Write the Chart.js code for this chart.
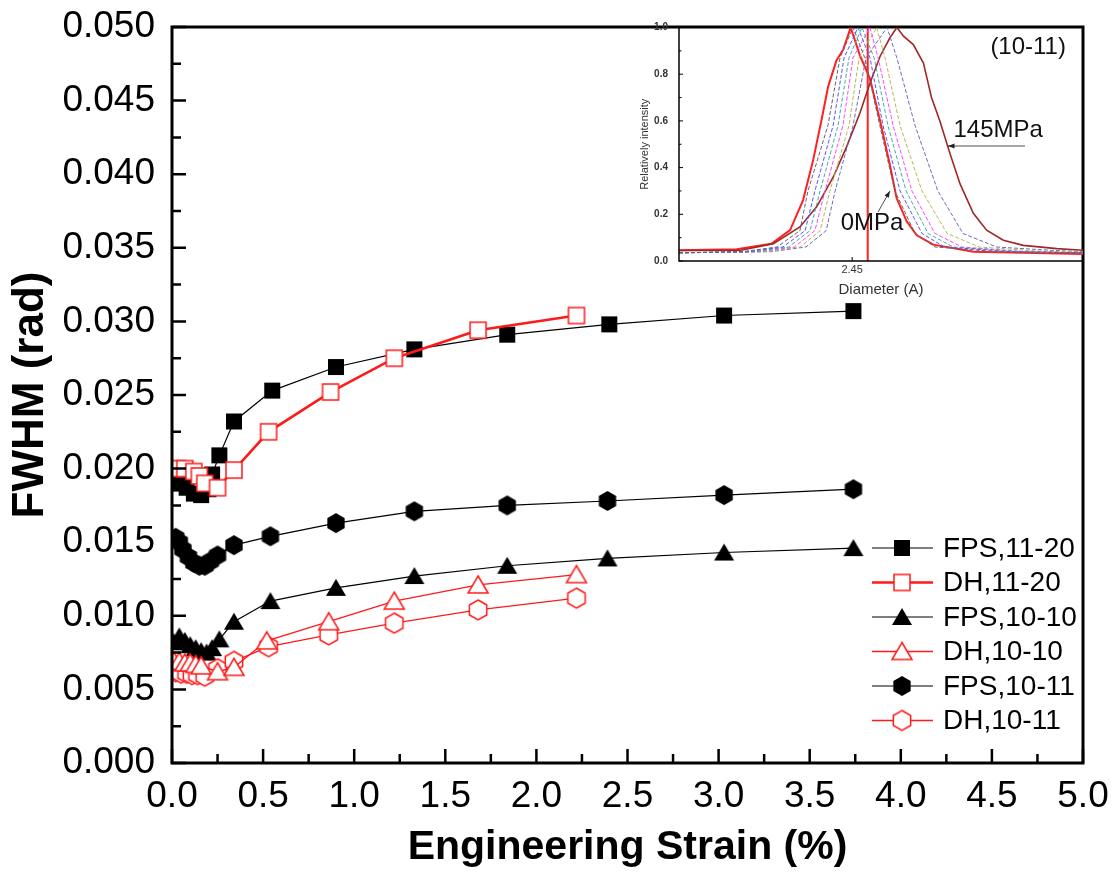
<!DOCTYPE html>
<html>
<head>
<meta charset="utf-8">
<script src="https://cdn.jsdelivr.net/npm/chart.js@4.4.0/dist/chart.umd.min.js"></script>
<style>
  body { margin: 0; background: #fff; }
  #wrap { position: relative; width: 1116px; height: 883px; }
  #main { position: absolute; left: 0; top: 0; }
  #inset { position: absolute; left: 630px; top: 20px; }
</style>
</head>
<body>
<div id="wrap">
  <canvas id="main" width="1116" height="883"></canvas>
  <canvas id="inset" width="460" height="290"></canvas>
</div>
<script>
// ---- main chart data (engineering strain %, FWHM rad) ----
const fps1120X = [0.01, 0.04, 0.08, 0.12, 0.16, 0.20, 0.22, 0.26, 0.34, 0.55, 0.90, 1.33, 1.84, 2.40, 3.03, 3.74];
const fps1120Y = [0.0190, 0.0190, 0.0187, 0.0183, 0.0182, 0.0186, 0.0196, 0.0209, 0.0232, 0.0253, 0.0269, 0.0281, 0.0291, 0.0298, 0.0304, 0.0307];

const dh1120X = [0.03, 0.07, 0.12, 0.15, 0.18, 0.25, 0.34, 0.53, 0.87, 1.22, 1.68, 2.22];
const dh1120Y = [0.0200, 0.0200, 0.0198, 0.0195, 0.0190, 0.0187, 0.0199, 0.0225, 0.0252, 0.0275, 0.0294, 0.0304];

const fps1010X = [0.01, 0.04, 0.07, 0.10, 0.13, 0.16, 0.19, 0.22, 0.26, 0.34, 0.54, 0.90, 1.33, 1.84, 2.39, 3.03, 3.74];
const fps1010Y = [0.0082, 0.0086, 0.0083, 0.0080, 0.0078, 0.0076, 0.0075, 0.0078, 0.0084, 0.0096, 0.0110, 0.0119, 0.0127, 0.0134, 0.0139, 0.0143, 0.0146];

const dh1010X = [0.01, 0.04, 0.07, 0.10, 0.13, 0.16, 0.25, 0.34, 0.52, 0.86, 1.22, 1.68, 2.22];
const dh1010Y = [0.0069, 0.0069, 0.0068, 0.0068, 0.0067, 0.0066, 0.0062, 0.0065, 0.0083, 0.0096, 0.0110, 0.0121, 0.0128];

const fps1011X = [0.02, 0.04, 0.06, 0.09, 0.12, 0.15, 0.18, 0.21, 0.25, 0.34, 0.54, 0.90, 1.33, 1.84, 2.39, 3.03, 3.74];
const fps1011Y = [0.0153, 0.0150, 0.0145, 0.0140, 0.0136, 0.0134, 0.0134, 0.0137, 0.0141, 0.0148, 0.0154, 0.0163, 0.0171, 0.0175, 0.0178, 0.0182, 0.0186];

const dh1011X = [0.02, 0.05, 0.08, 0.11, 0.14, 0.18, 0.25, 0.34, 0.53, 0.86, 1.22, 1.68, 2.22];
const dh1011Y = [0.0062, 0.0061, 0.0061, 0.0060, 0.0060, 0.0059, 0.0064, 0.0069, 0.0079, 0.0087, 0.0095, 0.0104, 0.0112];

const seriesNames = ['FPS,11-20', 'DH,11-20', 'FPS,10-10', 'DH,10-10', 'FPS,10-11', 'DH,10-11'];

// ---- inset data (diameter A, relative intensity) ----
const curve0X = [2.390, 2.410, 2.422, 2.4285, 2.433, 2.4365, 2.4394, 2.4417, 2.4446, 2.4469, 2.4495, 2.4527, 2.4562, 2.4597, 2.4631, 2.4654, 2.4689, 2.4724, 2.4781, 2.4920, 2.5300];
const curve0Y = [0.046, 0.050, 0.074, 0.132, 0.261, 0.433, 0.605, 0.748, 0.860, 0.905, 1.000, 0.880, 0.780, 0.600, 0.410, 0.270, 0.170, 0.110, 0.070, 0.040, 0.030];
const curve1X = [2.390, 2.412, 2.424, 2.4319, 2.4347, 2.4416, 2.4458, 2.4503, 2.4544, 2.4596, 2.4648, 2.4718, 2.4787, 2.500, 2.530];
const curve1Y = [0.035, 0.040, 0.060, 0.130, 0.300, 0.580, 0.870, 1.000, 0.870, 0.580, 0.300, 0.118, 0.060, 0.040, 0.035];
const curve2X = [2.390, 2.414, 2.426, 2.4337, 2.4371, 2.4434, 2.4472, 2.4520, 2.4562, 2.4607, 2.4666, 2.4742, 2.4820, 2.505, 2.530];
const curve2Y = [0.035, 0.040, 0.060, 0.130, 0.300, 0.580, 0.870, 1.000, 0.870, 0.580, 0.300, 0.118, 0.060, 0.040, 0.035];
const curve3X = [2.390, 2.416, 2.428, 2.4354, 2.4389, 2.4451, 2.4489, 2.4534, 2.4576, 2.4624, 2.4687, 2.4763, 2.4850, 2.508, 2.530];
const curve3Y = [0.035, 0.040, 0.060, 0.130, 0.300, 0.580, 0.870, 1.000, 0.870, 0.580, 0.300, 0.118, 0.060, 0.040, 0.035];
const curve4X = [2.390, 2.418, 2.430, 2.4371, 2.4406, 2.4468, 2.4503, 2.4562, 2.4590, 2.4642, 2.4707, 2.4787, 2.4880, 2.510, 2.530];
const curve4Y = [0.035, 0.040, 0.060, 0.130, 0.300, 0.580, 0.870, 1.000, 0.870, 0.580, 0.300, 0.118, 0.060, 0.040, 0.035];
const curve5X = [2.390, 2.420, 2.432, 2.4389, 2.4423, 2.4489, 2.4524, 2.4585, 2.4614, 2.4666, 2.4742, 2.4829, 2.4940, 2.515, 2.530];
const curve5Y = [0.035, 0.040, 0.060, 0.130, 0.300, 0.580, 0.870, 1.000, 0.870, 0.580, 0.300, 0.118, 0.060, 0.042, 0.038];
const curve6X = [2.390, 2.422, 2.434, 2.4410, 2.4441, 2.4503, 2.4548, 2.4621, 2.4655, 2.4718, 2.4797, 2.4884, 2.5000, 2.520, 2.530];
const curve6Y = [0.035, 0.040, 0.060, 0.130, 0.300, 0.580, 0.870, 1.000, 0.870, 0.580, 0.300, 0.118, 0.060, 0.045, 0.040];
const curve145X = [2.390, 2.411, 2.4227, 2.4319, 2.4377, 2.4435, 2.4481, 2.4527, 2.4562, 2.4597, 2.4631, 2.4655, 2.4678, 2.4712, 2.4747, 2.4775, 2.4804, 2.4839, 2.4874, 2.4920, 2.4966, 2.5024, 2.5093, 2.5209, 2.5300];
const curve145Y = [0.045, 0.045, 0.074, 0.146, 0.232, 0.361, 0.490, 0.634, 0.762, 0.877, 0.956, 1.000, 0.963, 0.927, 0.848, 0.700, 0.600, 0.460, 0.330, 0.204, 0.132, 0.089, 0.067, 0.053, 0.046];
const markerLineX = [2.4554, 2.4554];
const markerLineY = [0, 1];

const pts = (xs, ys) => xs.map((x, i) => ({ x, y: ys[i] }));
const FONT = '"Liberation Sans", Arial, sans-serif';
Chart.defaults.color = '#000';
Chart.defaults.font.family = FONT;

// marker images (Origin style)
function marker(shape, fill, stroke) {
    const c = document.createElement('canvas');
    c.width = 24; c.height = 24;
    const g = c.getContext('2d');
    const m = 12;
    g.beginPath();
    if (shape === 'square') {
        g.rect(m - 8, m - 8, 16, 16);
    } else if (shape === 'triangle') {
        g.moveTo(m, m - 9); g.lineTo(m + 10, m + 8); g.lineTo(m - 10, m + 8); g.closePath();
    } else {
        for (let k = 0; k < 6; k++) {
            const a = (-90 + 60 * k) * Math.PI / 180;
            const px = m + 10 * Math.cos(a), py = m + 10 * Math.sin(a);
            k ? g.lineTo(px, py) : g.moveTo(px, py);
        }
        g.closePath();
    }
    g.fillStyle = fill;
    g.fill();
    if (stroke) { g.lineWidth = 1.5; g.strokeStyle = stroke; g.stroke(); }
    return c;
}

// keep the plot box where the axes say, not pushed by label overhang
const noOverhang = s => { s.paddingTop = 0; s.paddingBottom = 0; s.paddingLeft = 0; s.paddingRight = 0; };

const RED = '#ff1a1a';
const mainSets = [
    { label: seriesNames[0], data: pts(fps1120X, fps1120Y), borderColor: '#000', borderWidth: 1.2, pointStyle: marker('square', '#000'), order: 1 },
    { label: seriesNames[1], data: pts(dh1120X, dh1120Y), borderColor: RED, borderWidth: 2.6, pointStyle: marker('square', '#fff', RED), order: 0 },
    { label: seriesNames[2], data: pts(fps1010X, fps1010Y), borderColor: '#000', borderWidth: 1.2, pointStyle: marker('triangle', '#000'), order: 1 },
    { label: seriesNames[3], data: pts(dh1010X, dh1010Y), borderColor: RED, borderWidth: 1.3, pointStyle: marker('triangle', '#fff', RED), order: 0 },
    { label: seriesNames[4], data: pts(fps1011X, fps1011Y), borderColor: '#000', borderWidth: 1.2, pointStyle: marker('hex', '#000'), order: 1 },
    { label: seriesNames[5], data: pts(dh1011X, dh1011Y), borderColor: RED, borderWidth: 1.3, pointStyle: marker('hex', '#fff', RED), order: 0 }
].map(d => Object.assign(d, { showLine: true, tension: 0, pointRadius: 8, pointHoverRadius: 8 }));

// frame, inward ticks and the in-plot legend
const mainDecor = {
    id: 'mainDecor',
    afterDraw(chart) {
        const { ctx, chartArea: a, scales: { x, y } } = chart;
        ctx.save();
        ctx.strokeStyle = '#000';
        ctx.lineWidth = 2.5;
        ctx.beginPath();
        for (let v = 0; v <= 5.0001; v += 0.25) {
            const px = x.getPixelForValue(v);
            const len = Math.round(v * 4) % 2 === 0 ? 14 : 9;
            ctx.moveTo(px, a.bottom); ctx.lineTo(px, a.bottom - len);
        }
        for (let v = 0; v <= 0.05001; v += 0.0025) {
            const py = y.getPixelForValue(v);
            const len = Math.round(v * 400) % 2 === 0 ? 14 : 9;
            ctx.moveTo(a.left, py); ctx.lineTo(a.left + len, py);
        }
        ctx.stroke();
        ctx.lineWidth = 3;
        ctx.strokeRect(a.left, a.top, a.right - a.left, a.bottom - a.top);

        // legend
        ctx.font = '28px ' + FONT;
        ctx.textBaseline = 'middle';
        ctx.textAlign = 'left';
        mainSets.forEach((d, i) => {
            const ry = 548 + i * 34.5;
            ctx.beginPath();
            ctx.strokeStyle = d.borderColor;
            ctx.lineWidth = d.borderWidth;
            ctx.moveTo(872, ry); ctx.lineTo(933, ry);
            ctx.stroke();
            const img = d.pointStyle;
            ctx.drawImage(img, 902 - img.width / 2, ry - img.height / 2);
            ctx.fillStyle = '#000';
            ctx.fillText(d.label, 943, ry + 1);
        });
        ctx.restore();
    }
};

new Chart(document.getElementById('main'), {
    type: 'scatter',
    data: { datasets: mainSets },
    options: {
        responsive: false,
        animation: false,
        layout: { autoPadding: false, padding: { top: 27, right: 33, bottom: 0, left: 0 } },
        plugins: { legend: { display: false }, tooltip: { enabled: false } },
        scales: {
            x: {
                type: 'linear', min: 0, max: 5,
                grid: { display: false, drawTicks: false }, border: { display: false },
                ticks: { stepSize: 0.5, padding: 12, font: { size: 37 }, callback: v => v.toFixed(1) },
                title: { display: true, text: 'Engineering Strain (%)', font: { size: 41, weight: 'bold' }, padding: { top: 0, bottom: 11 } },
                afterFit: s => { s.height = 120; noOverhang(s); }
            },
            y: {
                type: 'linear', min: 0, max: 0.05,
                grid: { display: false, drawTicks: false }, border: { display: false },
                ticks: { stepSize: 0.005, padding: 17, font: { size: 37 }, callback: v => v.toFixed(3) },
                title: { display: true, text: 'FWHM (rad)', font: { size: 44, weight: 'bold' }, padding: { top: 4, bottom: 0 } },
                afterFit: s => { s.width = 172; noOverhang(s); }
            }
        }
    },
    plugins: [mainDecor]
});

// ---- inset ----
const insetSets = [
    { data: pts(curve1X, curve1Y), borderColor: '#666666', borderDash: [4, 2], borderWidth: 1 },
    { data: pts(curve2X, curve2Y), borderColor: '#5555ff', borderDash: [4, 2], borderWidth: 1 },
    { data: pts(curve3X, curve3Y), borderColor: '#40b0a0', borderDash: [4, 2], borderWidth: 1 },
    { data: pts(curve4X, curve4Y), borderColor: '#ff44ff', borderDash: [4, 2], borderWidth: 1 },
    { data: pts(curve5X, curve5Y), borderColor: '#b8b850', borderDash: [4, 2], borderWidth: 1 },
    { data: pts(curve6X, curve6Y), borderColor: '#6a6ac0', borderDash: [4, 2], borderWidth: 1 },
    { data: pts(curve145X, curve145Y), borderColor: '#a02828', borderWidth: 1.6 },
    { data: pts(curve0X, curve0Y), borderColor: '#ff2020', borderWidth: 2 },
    { data: pts(markerLineX, markerLineY), borderColor: '#ff2020', borderWidth: 2 }
].map(d => Object.assign(d, { showLine: true, tension: 0, pointRadius: 0 }));

const insetDecor = {
    id: 'insetDecor',
    afterDraw(chart) {
        const { ctx, chartArea: a, scales: { x, y } } = chart;
        ctx.save();
        ctx.strokeStyle = '#000';
        ctx.lineWidth = 1.5;
        ctx.beginPath();
        ctx.moveTo(a.left, a.top); ctx.lineTo(a.left, a.bottom); ctx.lineTo(a.right, a.bottom);
        ctx.stroke();
        ctx.lineWidth = 1;
        ctx.beginPath();
        for (let v = 0; v <= 1.0001; v += 0.1) {
            const py = y.getPixelForValue(v);
            const len = Math.round(v * 10) % 2 === 0 ? 4 : 2.5;
            ctx.moveTo(a.left, py); ctx.lineTo(a.left + len, py);
        }
        const tx = x.getPixelForValue(2.45);
        ctx.moveTo(tx, a.bottom); ctx.lineTo(tx, a.bottom - 4);
        ctx.stroke();

        ctx.fillStyle = '#111';
        ctx.font = '24px ' + FONT;
        ctx.textAlign = 'center';
        ctx.textBaseline = 'middle';
        ctx.fillText('(10-11)', x.getPixelForValue(2.511), y.getPixelForValue(0.917));
        ctx.fillText('145MPa', x.getPixelForValue(2.5006), y.getPixelForValue(0.561));
        ctx.fillText('0MPa', x.getPixelForValue(2.4569), y.getPixelForValue(0.163));

        const arrow = (x0, y0, x1, y1) => {
            const p0 = [x.getPixelForValue(x0), y.getPixelForValue(y0)];
            const p1 = [x.getPixelForValue(x1), y.getPixelForValue(y1)];
            const ang = Math.atan2(p1[1] - p0[1], p1[0] - p0[0]);
            ctx.strokeStyle = '#222';
            ctx.lineWidth = 0.8;
            ctx.beginPath();
            ctx.moveTo(p0[0], p0[1]); ctx.lineTo(p1[0], p1[1]);
            ctx.stroke();
            ctx.beginPath();
            ctx.moveTo(p1[0], p1[1]);
            ctx.lineTo(p1[0] - 7 * Math.cos(ang - 0.35), p1[1] - 7 * Math.sin(ang - 0.35));
            ctx.lineTo(p1[0] - 7 * Math.cos(ang + 0.35), p1[1] - 7 * Math.sin(ang + 0.35));
            ctx.closePath();
            ctx.fillStyle = '#222';
            ctx.fill();
        };
        arrow(2.5099, 0.4925, 2.4832, 0.4925);
        arrow(2.4590, 0.21, 2.4631, 0.30);
        ctx.restore();
    }
};

new Chart(document.getElementById('inset'), {
    type: 'scatter',
    data: { datasets: insetSets },
    options: {
        responsive: false,
        animation: false,
        layout: { autoPadding: false, padding: { top: 7.5, right: 7, bottom: 0, left: 0 } },
        plugins: { legend: { display: false }, tooltip: { enabled: false } },
        scales: {
            x: {
                type: 'linear', min: 2.39, max: 2.53,
                grid: { display: false, drawTicks: false }, border: { display: false },
                afterBuildTicks: s => { s.ticks = [{ value: 2.45 }]; },
                ticks: { padding: 2, color: '#333', font: { size: 11 }, callback: v => v.toFixed(2) },
                title: { display: true, text: 'Diameter (A)', color: '#333', font: { size: 15 }, padding: { top: 0, bottom: 11 } },
                afterFit: s => { s.height = 49; noOverhang(s); }
            },
            y: {
                type: 'linear', min: 0, max: 1,
                grid: { display: false, drawTicks: false }, border: { display: false },
                ticks: { stepSize: 0.2, padding: 11, color: '#333', font: { size: 10, weight: 'bold' }, callback: v => v.toFixed(1) },
                title: { display: true, text: 'Relatively intensity', color: '#333', font: { size: 11 }, padding: { top: 8, bottom: 0 } },
                afterFit: s => { s.width = 49; noOverhang(s); }
            }
        }
    },
    plugins: [insetDecor]
});
</script>
</body>
</html>
